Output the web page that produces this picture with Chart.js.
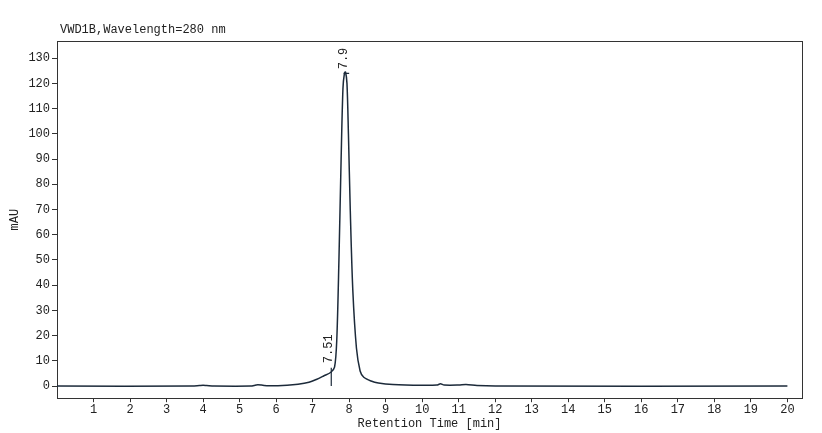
<!DOCTYPE html>
<html><head><meta charset="utf-8">
<script src="https://cdn.jsdelivr.net/npm/chart.js@4"></script>
<style>html,body{margin:0;padding:0;background:#fff}#w{width:822px;height:433px}</style>
</head><body><div id="w"><canvas id="c"></canvas></div>
<script>
const times=[0,3.7,3.9,4.0,4.1,4.3,5.3,5.45,5.5,5.6,5.8,6.3,6.6,6.9,7.1,7.3,7.5,7.6,7.66,7.72,7.78,7.83,7.87,7.9,7.94,7.98,8.03,8.1,8.2,8.3,8.4,8.6,8.8,9.2,10,10.4,10.5,10.6,11.0,11.2,11.5,12,20];
const signal=[0,0,0.2,0.3,0.2,0,0,0.4,0.5,0.4,0.1,0.3,0.7,1.5,2.6,4,5.5,7.5,18,50,90,118,124,124.5,120,100,70,38,15,6,3.5,2,1.2,0.6,0.3,0.4,0.9,0.4,0.4,0.6,0.2,0,0];
const peakLabels=[{t:7.51,y:7.5,text:"7.51"},{t:7.9,y:124,text:"7.9"}];
const xTicks=[1,2,3,4,5,6,7,8,9,10,11,12,13,14,15,16,17,18,19,20];
const yTicks=[0,10,20,30,40,50,60,70,80,90,100,110,120,130];
const FONT="'Liberation Mono','DejaVu Sans Mono',monospace";
const col='#1c2a3a';
const labelsPlugin={id:'lbl',afterDatasetsDraw(ch){
  const c=ch.ctx,x=ch.scales.x,y=ch.scales.y;
  c.save();c.fillStyle='#222';c.font='12px '+FONT;
  c.fillText('VWD1B,Wavelength=280 nm',60,33);
  peakLabels.forEach(p=>{c.save();c.translate(x.getPixelForValue(p.t)+4,y.getPixelForValue(p.y)-4);c.rotate(-Math.PI/2);c.textAlign='left';c.textBaseline='bottom';c.fillText(p.text,0,0);c.restore();});
  c.restore();
}};
new Chart(document.getElementById('c'),{type:'line',
data:{datasets:[
 {data:times.map((t,i)=>({x:t,y:signal[i]})),borderColor:col,borderWidth:1.5,pointRadius:0,tension:0.3},
 {data:[{x:7.51,y:0},{x:7.51,y:7.3}],borderColor:col,borderWidth:1.2,pointRadius:0},
 {data:[{x:7.85,y:124},{x:8.0,y:124}],borderColor:col,borderWidth:1.2,pointRadius:0}
]},
plugins:[labelsPlugin],
options:{animation:false,responsive:true,maintainAspectRatio:false,
 layout:{padding:{top:33,right:12,left:4,bottom:0}},
 plugins:{legend:{display:false},tooltip:{enabled:false}},
 scales:{
  x:{type:'linear',min:0,max:20.4,afterBuildTicks:s=>{s.ticks=xTicks.map(v=>({value:v}));},
   grid:{display:true,drawOnChartArea:false,tickLength:4,color:'#333'},border:{color:'#333',width:1},
   ticks:{color:'#222',font:{family:FONT,size:12},maxRotation:0,padding:0},
   title:{display:true,text:'Retention Time [min]',color:'#222',font:{family:FONT,size:12},padding:{top:0,bottom:2}}},
  y:{min:-4.8,max:136.8,afterBuildTicks:s=>{s.ticks=yTicks.map(v=>({value:v}));},
   grid:{display:true,drawOnChartArea:false,tickLength:5,color:'#333'},border:{color:'#333',width:1},
   ticks:{color:'#222',font:{family:FONT,size:12},padding:2},
   title:{display:true,text:'mAU',color:'#222',font:{family:FONT,size:12},padding:{bottom:4}}},
  x2:{type:'linear',position:'top',min:0,max:20.4,ticks:{display:false},grid:{display:false},border:{color:'#333'}},
  y2:{position:'right',min:0,max:1,ticks:{display:false},grid:{display:false},border:{color:'#333'}}
 }}});
</script></body></html>
